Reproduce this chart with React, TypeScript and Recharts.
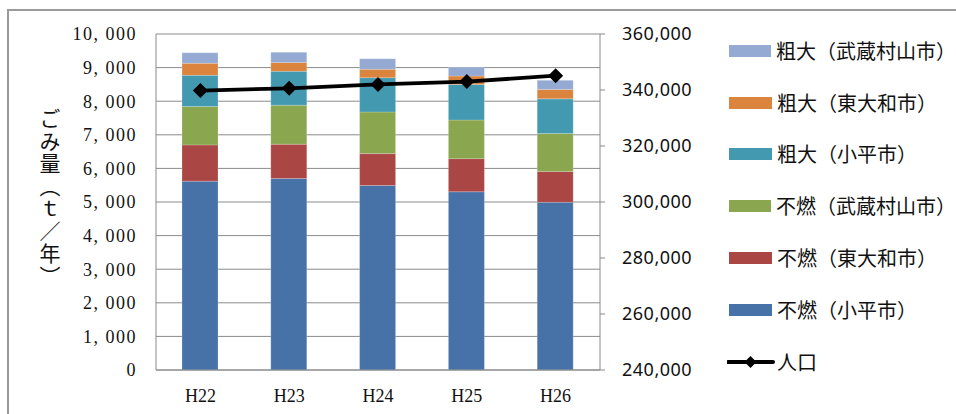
import {
  ComposedChart,
  Bar,
  Line,
  XAxis,
  YAxis,
  CartesianGrid,
  Legend,
  Label,
} from "recharts";

const categories = ["H22", "H23", "H24", "H25", "H26"];

// 不燃
const funenKodaira = [5620, 5700, 5490, 5305, 4990];
const funenHigashiyamato = [1080, 1020, 950, 985, 920];
const funenMusashimurayama = [1140, 1160, 1240, 1150, 1130];
// 粗大
const sodaiKodaira = [930, 1010, 1020, 1060, 1030];
const sodaiHigashiyamato = [360, 260, 250, 250, 280];
const sodaiMusashimurayama = [310, 305, 315, 260, 270];
// 人口
const population = [339800, 340600, 342000, 343000, 345100];

const leftTicks = [0, 1000, 2000, 3000, 4000, 5000, 6000, 7000, 8000, 9000, 10000];
const rightTicks = [240000, 260000, 280000, 300000, 320000, 340000, 360000];

const series = [
  { key: "funenKodaira", name: "不燃（小平市）", color: "#4672A8", values: funenKodaira },
  { key: "funenHigashiyamato", name: "不燃（東大和市）", color: "#AA4644", values: funenHigashiyamato },
  { key: "funenMusashimurayama", name: "不燃（武蔵村山市）", color: "#8AA64E", values: funenMusashimurayama },
  { key: "sodaiKodaira", name: "粗大（小平市）", color: "#4299B0", values: sodaiKodaira },
  { key: "sodaiHigashiyamato", name: "粗大（東大和市）", color: "#DB843D", values: sodaiHigashiyamato },
  { key: "sodaiMusashimurayama", name: "粗大（武蔵村山市）", color: "#95AAD2", values: sodaiMusashimurayama },
];

const data = categories.map((c, i) => {
  const row: Record<string, string | number> = { year: c, population: population[i] };
  series.forEach((s) => {
    row[s.key] = s.values[i];
  });
  return row;
});

const GRID = "#8a8a8a";

// eslint-disable-next-line @typescript-eslint/no-explicit-any
function Diamond(props: any) {
  const { cx, cy, r = 7.5 } = props;
  if (cx == null || cy == null) return null;
  return (
    <path
      d={`M${cx},${cy - r} L${cx + r},${cy} L${cx},${cy + r} L${cx - r},${cy} Z`}
      fill="#000"
      stroke="none"
    />
  );
}

function renderLegend() {
  const items = [...series].reverse();
  return (
    <div style={{ fontFamily: "'Noto Sans CJK JP', sans-serif", fontSize: 20, color: "#111" }}>
      {items.map((s) => (
        <div key={s.key} style={{ height: 51.8, display: "flex", alignItems: "center" }}>
          <span
            style={{
              display: "inline-block",
              width: 43,
              height: 12,
              background: s.color,
              marginLeft: 2,
              marginRight: 5,
            }}
          />
          <span style={{ whiteSpace: "nowrap", lineHeight: 1 }}>{s.name}</span>
        </div>
      ))}
      <div style={{ height: 51.8, display: "flex", alignItems: "center" }}>
        <svg width={50} height={14} style={{ display: "block" }}>
          <line x1={1} y1={7} x2={46} y2={7} stroke="#000" strokeWidth={4} strokeLinecap="round" />
          <Diamond cx={23.5} cy={7} r={6} />
        </svg>
        <span style={{ whiteSpace: "nowrap", lineHeight: 1 }}>人口</span>
      </div>
    </div>
  );
}

export default function App() {
  return (
    <div
      style={{
        position: "absolute",
        left: 0,
        top: 0,
        width: 956,
        height: 414,
        overflow: "hidden",
        background: "#fff",
      }}
    >
      <div
        style={{
          position: "absolute",
          left: 7,
          top: 9,
          width: 1000,
          height: 500,
          border: "2px solid #9a9a9a",
        }}
      />
      <div style={{ position: "absolute", left: 0, top: 0 }}>
        <ComposedChart
          width={956}
          height={414}
          data={data}
          margin={{ top: 34, right: 246, bottom: 14, left: 0 }}
        >
          <CartesianGrid yAxisId="left" vertical={false} stroke={GRID} strokeWidth={1} />
          <XAxis
            dataKey="year"
            height={30}
            axisLine={{ stroke: GRID }}
            tickLine={false}
            tickSize={0}
            tickMargin={19}
            tick={{ fontSize: 18, fill: "#111", fontFamily: "'Liberation Serif', serif" }}
          />
          <YAxis
            yAxisId="left"
            width={156}
            domain={[0, 10000]}
            ticks={leftTicks}
            interval={0}
            axisLine={{ stroke: GRID }}
            tickLine={false}
            tickSize={6}
            tickMargin={13}
            tickFormatter={(v: number) => v.toLocaleString("en-US").replace(",", ", ")}
            tick={{
              fontSize: 18,
              fill: "#111",
              fontFamily: "'Liberation Serif', serif",
              letterSpacing: 1.5,
            }}
          >
            <Label
              content={() => (
                <text
                  x={50}
                  y={198}
                  textAnchor="middle"
                  fontSize={21}
                  fill="#111"
                  fontFamily="'Noto Sans CJK JP', sans-serif"
                  letterSpacing={1.5}
                  style={{ writingMode: "vertical-rl" }}
                >
                  ごみ量（ｔ／年）
                </text>
              )}
            />
          </YAxis>
          <YAxis
            yAxisId="right"
            orientation="right"
            width={110}
            domain={[240000, 360000]}
            ticks={rightTicks}
            interval={0}
            axisLine={{ stroke: GRID }}
            tickLine={{ stroke: GRID }}
            tickSize={5}
            tickMargin={17}
            tickFormatter={(v: number) => v.toLocaleString("en-US")}
            tick={{
              fontSize: 18,
              fill: "#111",
              fontFamily: "'Noto Sans', sans-serif",
              letterSpacing: 0.5,
              textAnchor: "start",
            }}
          />
          {series.map((s) => (
            <Bar
              key={s.key}
              yAxisId="left"
              dataKey={s.key}
              name={s.name}
              stackId="a"
              barSize={36}
              fill={s.color}
              stroke="#ffffff"
              strokeOpacity={0.35}
              strokeWidth={0.6}
              isAnimationActive={false}
            />
          ))}
          <Line
            yAxisId="right"
            dataKey="population"
            name="人口"
            stroke="#000"
            strokeWidth={3.8}
            dot={(p: any) => <Diamond key={`d-${p.index}`} cx={p.cx} cy={p.cy} />}
            activeDot={false}
            isAnimationActive={false}
          />
          <Legend
            layout="vertical"
            align="center"
            verticalAlign="middle"
            wrapperStyle={{ left: 727, top: 25, width: 229 }}
            content={renderLegend}
          />
        </ComposedChart>
      </div>
    </div>
  );
}
